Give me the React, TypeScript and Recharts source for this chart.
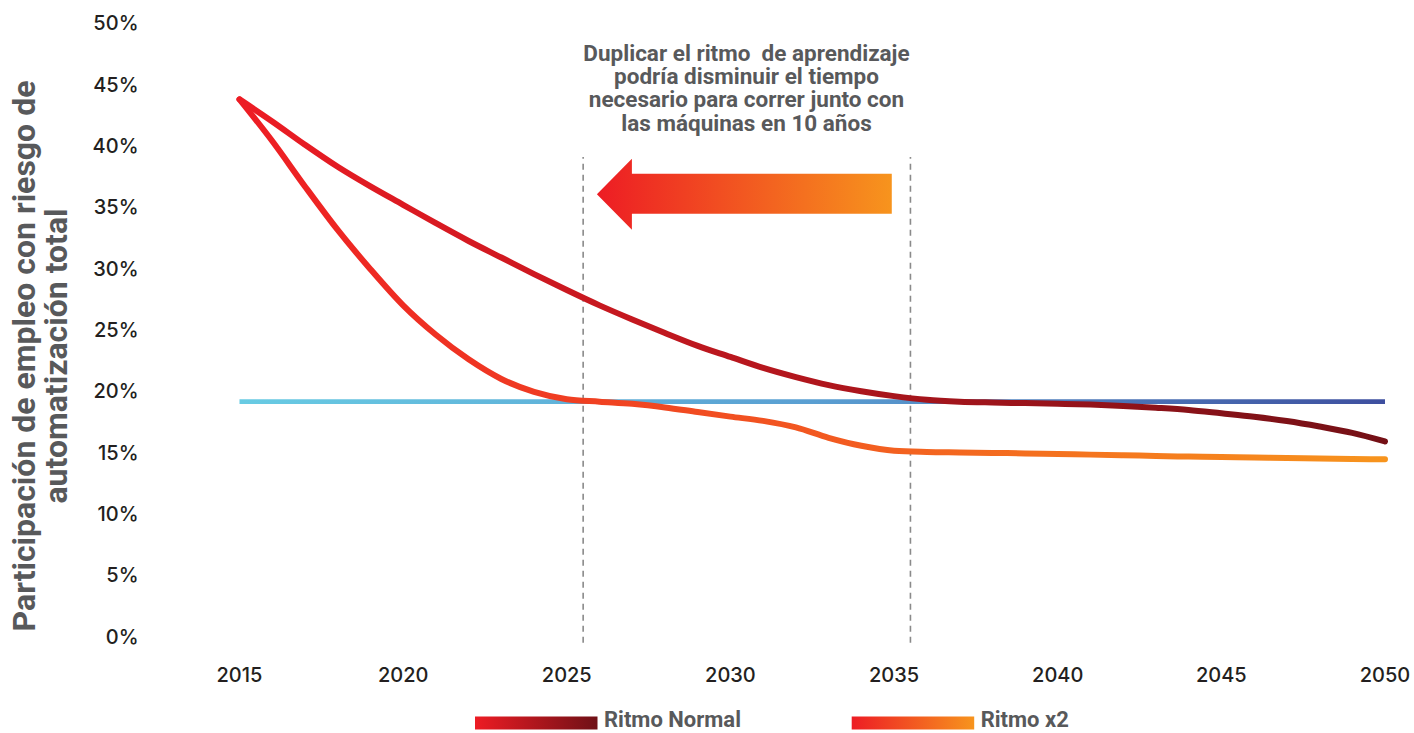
import React from "react";
import {
  LineChart,
  Line,
  XAxis,
  YAxis,
  ReferenceLine,
  ReferenceArea,
  Customized,
} from "recharts";

// ---- data ----
const years = [
  2015, 2016, 2017, 2018, 2019, 2020, 2021, 2022, 2023, 2024, 2025, 2026,
  2027, 2028, 2029, 2030, 2031, 2032, 2033, 2034, 2035, 2036, 2037, 2038,
  2039, 2040, 2041, 2042, 2043, 2044, 2045, 2046, 2047, 2048, 2049, 2050,
];

// Share of employment at risk of full automation (%), normal learning pace
const ritmoNormal = [
  43.8, 42.0, 40.1, 38.3, 36.7, 35.2, 33.7, 32.25, 30.9, 29.55, 28.25, 27.0,
  25.85, 24.75, 23.7, 22.8, 21.9, 21.15, 20.5, 20.0, 19.6, 19.3, 19.15, 19.08,
  19.03, 18.98, 18.91, 18.8, 18.65, 18.47, 18.2, 17.92, 17.57, 17.12, 16.6, 15.9,
];

// Same share with the learning pace doubled
const ritmoX2 = [
  43.8, 40.4, 36.7, 33.15, 29.95, 27.0, 24.6, 22.6, 21.0, 19.95, 19.35, 19.15,
  18.97, 18.68, 18.3, 17.93, 17.58, 17.05, 16.2, 15.55, 15.15, 15.05, 15.01, 14.97,
  14.93, 14.88, 14.83, 14.78, 14.72, 14.67, 14.63, 14.59, 14.55, 14.52, 14.48, 14.45,
];

// Level reached by the machines (flat reference series)
const umbralYears = [2015, 2050];
const umbralValues = [19.15, 19.15];

const yTicks = [0, 5, 10, 15, 20, 25, 30, 35, 40, 45, 50];
const xTicks = [2015, 2020, 2025, 2030, 2035, 2040, 2045, 2050];

// Years where each path meets the machine level
const cruceYears = [2025.5, 2035.5];
const cruceSpan = [-0.5, 39.1];

// Arrow between the two crossings (years / %)
const flechaYears = [2025.92, 2034.93];
const flechaRange = [33.16, 38.95];

const annotationLines = [
  "Duplicar el ritmo  de aprendizaje",
  "podría disminuir el tiempo",
  "necesario para correr junto con",
  "las máquinas en 10 años",
];

const yTitleLines = [
  "Participación de empleo con riesgo de",
  "automatización total",
];

const legendItems = [
  { label: "Ritmo Normal", gradient: "gradNormal" },
  { label: "Ritmo x2", gradient: "gradX2" },
];

// ---- tables built from the arrays ----
const tabla = years.map((year, i) => ({
  year,
  normal: ritmoNormal[i],
  doble: ritmoX2[i],
}));
const umbral = umbralYears.map((year, i) => ({ year, valor: umbralValues[i] }));

// ---- layout (the chart is pinned to the top-left corner of the page) ----
const W = 1414;
const H = 733;
const MARGIN = { top: 23.3, right: 29, bottom: 46.5, left: 0 };
const Y_AXIS_W = 239.5;
const X_AXIS_H = 50;
const PLOT_LEFT = MARGIN.left + Y_AXIS_W;
const PLOT_RIGHT = W - MARGIN.right;

const GREY_TEXT = "#58595b";
const TICK_TEXT = "#231f20";
const TITLE_FONT = "Roboto, 'Liberation Sans', sans-serif";
const TICK_FONT = "Inter, 'DejaVu Sans', sans-serif";

const Arrow = (props: any) => {
  const { x, y, width, height } = props;
  const h = height;
  const head = (35 / 71) * h;
  const top = (15 / 71) * h;
  const bot = (55 / 71) * h;
  const pts = [
    [x, y + h / 2],
    [x + head, y],
    [x + head, y + top],
    [x + width, y + top],
    [x + width, y + bot],
    [x + head, y + bot],
    [x + head, y + h],
  ]
    .map((p) => p.join(","))
    .join(" ");
  return <polygon points={pts} fill="url(#gradArrow)" />;
};

const Overlay = () => (
  <g>
    {/* Y axis title */}
    <g transform="translate(0,356)">
      {yTitleLines.map((t, i) => (
        <text
          key={t}
          transform={`translate(${35 + i * 32},0) rotate(-90)`}
          textAnchor="middle"
          fontFamily={TITLE_FONT}
          fontWeight={700}
          fontSize={32}
          fill={GREY_TEXT}
        >
          {t}
        </text>
      ))}
    </g>
    {/* Annotation */}
    {annotationLines.map((t, i) => (
      <text
        key={t}
        x={746.5}
        y={60.7 + i * 23.3}
        textAnchor="middle"
        fontFamily={TITLE_FONT}
        fontWeight={700}
        fontSize={22.5}
        fill={GREY_TEXT}
        style={{ whiteSpace: "pre" }}
      >
        {t}
      </text>
    ))}
    {/* Legend */}
    {legendItems.map((it, i) => {
      const x0 = i === 0 ? 475 : 851.7;
      return (
        <g key={it.label}>
          <rect x={x0} y={716.5} width={122.5} height={13} fill={`url(#${it.gradient}Legend)`} />
          <text
            x={x0 + 129}
            y={727.3}
            fontFamily={TITLE_FONT}
            fontWeight={700}
            fontSize={22}
            fill={GREY_TEXT}
          >
            {it.label}
          </text>
        </g>
      );
    })}
  </g>
);

export default function App() {
  return (
    <div style={{ position: "fixed", left: 0, top: 0, width: W, height: H, background: "#ffffff" }}>
      <LineChart width={W} height={H} data={tabla} margin={MARGIN}>
        <defs>
          <linearGradient id="gradNormal" gradientUnits="userSpaceOnUse" x1={PLOT_LEFT} y1={0} x2={PLOT_RIGHT} y2={0}>
            <stop offset="0%" stopColor="#ed1c24" />
            <stop offset="100%" stopColor="#741016" />
          </linearGradient>
          <linearGradient id="gradX2" gradientUnits="userSpaceOnUse" x1={PLOT_LEFT} y1={0} x2={PLOT_RIGHT} y2={0}>
            <stop offset="0%" stopColor="#ed1c24" />
            <stop offset="100%" stopColor="#f7941d" />
          </linearGradient>
          <linearGradient id="gradUmbral" gradientUnits="userSpaceOnUse" x1={PLOT_LEFT} y1={0} x2={PLOT_RIGHT} y2={0}>
            <stop offset="0%" stopColor="#68cbe3" />
            <stop offset="50%" stopColor="#5a9fd2" />
            <stop offset="100%" stopColor="#3e4f9f" />
          </linearGradient>
          <linearGradient id="gradNormalLegend" x1="0" y1="0" x2="1" y2="0">
            <stop offset="0%" stopColor="#ed1c24" />
            <stop offset="100%" stopColor="#6f1016" />
          </linearGradient>
          <linearGradient id="gradX2Legend" x1="0" y1="0" x2="1" y2="0">
            <stop offset="0%" stopColor="#ed1c24" />
            <stop offset="100%" stopColor="#f7941d" />
          </linearGradient>
          <linearGradient id="gradArrow" x1="0" y1="0" x2="1" y2="0">
            <stop offset="0%" stopColor="#ed1c24" />
            <stop offset="100%" stopColor="#f7941d" />
          </linearGradient>
        </defs>

        <XAxis
          dataKey="year"
          type="number"
          domain={[2015, 2050]}
          ticks={xTicks}
          axisLine={false}
          tickLine={false}
          tickSize={0}
          tickMargin={31}
          height={X_AXIS_H}
          tick={{ fill: TICK_TEXT, fontSize: 20, fontFamily: TICK_FONT, fontWeight: 500 }}
        />
        <YAxis
          type="number"
          domain={[0, 50]}
          ticks={yTicks}
          tickFormatter={(v: number) => `${v}%`}
          axisLine={false}
          tickLine={false}
          tickSize={0}
          tickMargin={101}
          width={Y_AXIS_W}
          tick={{ fill: TICK_TEXT, fontSize: 20, fontFamily: TICK_FONT, fontWeight: 500 }}
        />

        {cruceYears.map((yr) => (
          <ReferenceLine
            key={yr}
            segment={[
              { x: yr, y: cruceSpan[0] },
              { x: yr, y: cruceSpan[1] },
            ]}
            stroke="#8a8a8a"
            strokeWidth={1.6}
            strokeDasharray="6 5"
            ifOverflow="visible"
          />
        ))}

        <ReferenceArea
          x1={flechaYears[0]}
          x2={flechaYears[1]}
          y1={flechaRange[0]}
          y2={flechaRange[1]}
          shape={Arrow}
          ifOverflow="visible"
        />

        <Line
          data={umbral}
          dataKey="valor"
          type="linear"
          stroke="url(#gradUmbral)"
          strokeWidth={4.6}
          strokeLinecap="butt"
          dot={false}
          activeDot={false}
          isAnimationActive={false}
        />
        <Line
          dataKey="doble"
          type="monotone"
          stroke="url(#gradX2)"
          strokeWidth={6}
          strokeLinecap="round"
          strokeLinejoin="round"
          dot={false}
          activeDot={false}
          isAnimationActive={false}
        />
        <Line
          dataKey="normal"
          type="monotone"
          stroke="url(#gradNormal)"
          strokeWidth={6}
          strokeLinecap="round"
          strokeLinejoin="round"
          dot={false}
          activeDot={false}
          isAnimationActive={false}
        />

        <Customized component={Overlay} />
      </LineChart>
    </div>
  );
}
